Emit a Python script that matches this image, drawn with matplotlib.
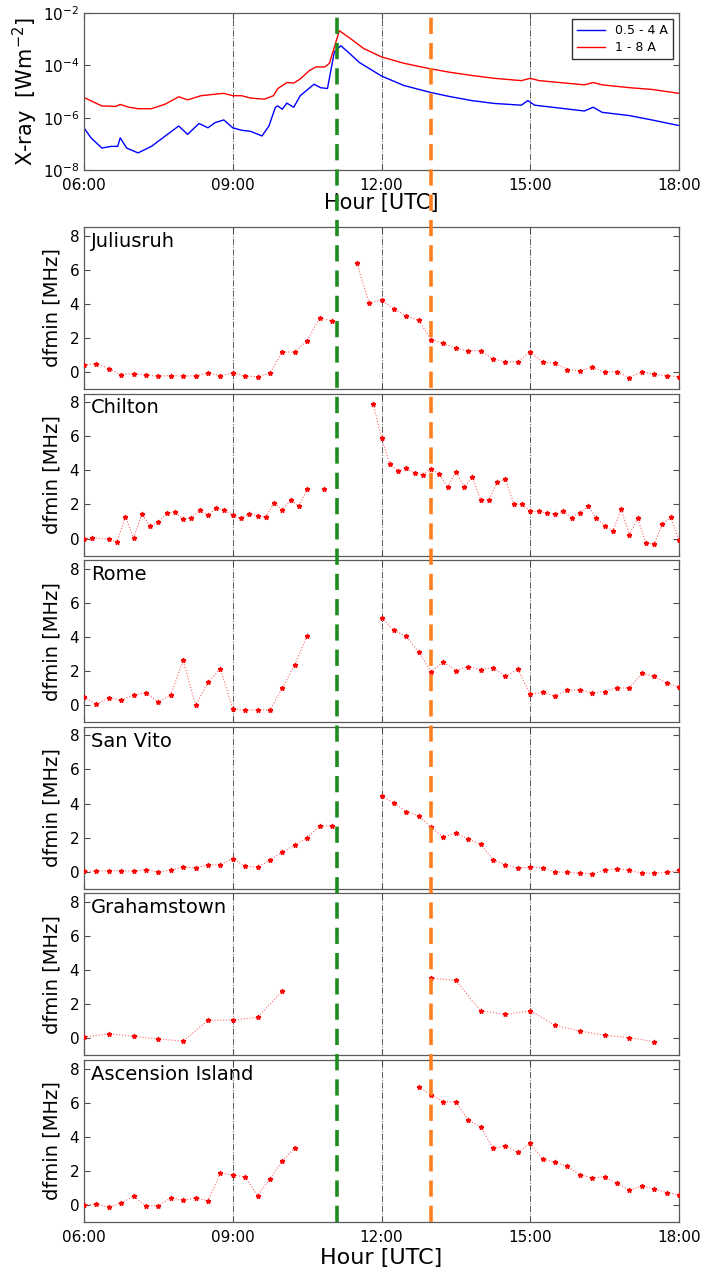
import matplotlib
matplotlib.use("Agg")
import matplotlib.pyplot as plt
import matplotlib.transforms as mtransforms
from matplotlib.lines import Line2D
import numpy as np

nan = np.nan

# ---- GOES X-ray flux (hours UTC, W m^-2)
xr_red_t = [6.0, 6.36, 6.64, 6.73, 6.91, 7.09, 7.36, 7.64, 7.91, 8.09, 8.36, 8.64, 8.82, 9.0,
            9.18, 9.36, 9.64, 9.82, 9.91, 10.09, 10.23, 10.36, 10.55, 10.68, 10.86, 10.95,
            11.15, 11.36, 11.64, 12.0, 12.45, 12.98, 13.36, 13.82, 14.27, 14.82, 15.0, 15.18,
            16.09, 16.27, 16.45, 17.0, 17.45, 18.0]
xr_red = [5.9e-6, 2.8e-6, 2.7e-6, 3.2e-6, 2.5e-6, 2.2e-6, 2.2e-6, 3.3e-6, 6.3e-6, 4.8e-6,
          6.9e-6, 7.9e-6, 8.5e-6, 6.9e-6, 6.9e-6, 5.6e-6, 5.1e-6, 6.9e-6, 1.3e-5, 2.2e-5,
          2.1e-5, 3.0e-5, 6.4e-5, 8.7e-5, 8.7e-5, 1.2e-4, 2.1e-3, 1.1e-3, 4.4e-4, 2.1e-4,
          1.2e-4, 7.4e-5, 5.5e-5, 4.1e-5, 3.2e-5, 2.6e-5, 3.2e-5, 2.6e-5, 1.8e-5, 2.2e-5,
          1.8e-5, 1.4e-5, 1.2e-5, 8.5e-6]
xr_blue_t = [6.0, 6.14, 6.36, 6.55, 6.68, 6.73, 6.86, 7.09, 7.36, 7.64, 7.91, 8.09, 8.32, 8.5,
             8.64, 8.82, 9.0, 9.18, 9.36, 9.59, 9.73, 9.86, 9.91, 10.0, 10.09, 10.23, 10.36,
             10.64, 10.77, 10.91, 11.05, 11.18, 11.36, 11.55, 12.0, 12.45, 12.98, 13.36, 13.82,
             14.27, 14.82, 14.95, 15.09, 16.09, 16.27, 16.45, 17.0, 17.45, 18.0]
xr_blue = [4.1e-7, 1.7e-7, 6.9e-8, 8.0e-8, 8.0e-8, 1.7e-7, 6.9e-8, 4.5e-8, 8.0e-8, 2.0e-7,
           4.8e-7, 2.3e-7, 6.0e-7, 4.1e-7, 6.4e-7, 8.2e-7, 4.1e-7, 3.3e-7, 3.0e-7, 2.0e-7,
           4.8e-7, 2.5e-6, 2.8e-6, 2.1e-6, 3.6e-6, 2.5e-6, 6.9e-6, 1.9e-5, 1.4e-5, 1.3e-5,
           3.3e-4, 5.6e-4, 2.8e-4, 1.3e-4, 3.9e-5, 1.7e-5, 9.3e-6, 6.5e-6, 4.5e-6, 3.5e-6,
           3.0e-6, 4.5e-6, 3.0e-6, 1.8e-6, 2.5e-6, 1.6e-6, 1.2e-6, 8.2e-7, 5.0e-7]

# ---- dfmin per station (hours UTC, MHz); nan = no line across
jul_t = [6.0, 6.25, 6.5, 6.75, 7.0, 7.25, 7.5, 7.75, 8.0, 8.25, 8.5, 8.75, 9.0, 9.25, 9.5, 9.75,
         10.0, 10.25, 10.5, 10.75, 11.0, 11.25, 11.5, 11.75, 12.0, 12.25, 12.5, 12.75, 13.0,
         13.25, 13.5, 13.75, 14.0, 14.25, 14.5, 14.75, 15.0, 15.25, 15.5, 15.75, 16.0, 16.25,
         16.5, 16.75, 17.0, 17.25, 17.5, 17.75, 18.0]
jul_v = [0.4, 0.49, 0.2, -0.16, -0.1, -0.18, -0.25, -0.21, -0.23, -0.23, -0.06, -0.21, -0.06,
         -0.25, -0.27, -0.08, 1.17, 1.17, 1.83, 3.16, 3.0, nan, 6.4, 4.06, 4.2, 3.71, 3.28, 3.03,
         1.89, 1.68, 1.39, 1.25, 1.25, 0.76, 0.6, 0.6, 1.17, 0.57, 0.51, 0.14, 0.08, 0.27, 0.0,
         0.02, -0.35, 0.02, -0.14, -0.21, -0.29]

chi_t = [6.0, 6.167, 6.5, 6.667, 6.833, 7.0, 7.167, 7.333, 7.5, 7.667, 7.833, 8.0, 8.167, 8.333,
         8.5, 8.667, 8.833, 9.0, 9.167, 9.333, 9.5, 9.667, 9.833, 10.0, 10.167, 10.333, 10.5,
         10.667, 10.833, 11.0, 11.833, 12.0, 12.167, 12.333, 12.5, 12.667, 12.833, 13.0, 13.167,
         13.333, 13.5, 13.667, 13.833, 14.0, 14.167, 14.333, 14.5, 14.667, 14.833, 15.0, 15.167,
         15.333, 15.5, 15.667, 15.833, 16.0, 16.167, 16.333, 16.5, 16.667, 16.833, 17.0, 17.167,
         17.333, 17.5, 17.667, 17.833, 18.0]
chi_v = [0.0, 0.05, -0.04, -0.2, 1.27, 0.04, 1.43, 0.73, 0.98, 1.49, 1.57, 1.14, 1.2, 1.65, 1.37,
         1.78, 1.67, 1.39, 1.18, 1.45, 1.35, 1.25, 2.1, 1.69, 2.24, 1.92, 2.88, nan, 2.92, nan,
         7.9, 5.92, 4.37, 3.96, 4.12, 3.84, 3.75, 4.08, 3.78, 3.02, 3.9, 3.02, 3.59, 2.27, 2.27,
         3.3, 3.47, 2.04, 2.0, 1.59, 1.61, 1.49, 1.43, 1.59, 1.22, 1.51, 1.88, 1.22, 0.76, 0.45,
         1.71, 0.22, 1.2, -0.27, -0.31, 0.86, 1.25, -0.08]

rom_t = [6.0, 6.25, 6.5, 6.75, 7.0, 7.25, 7.5, 7.75, 8.0, 8.25, 8.5, 8.75, 9.0, 9.25, 9.5, 9.75,
         10.0, 10.25, 10.5, 11.0, 12.0, 12.25, 12.5, 12.75, 13.0, 13.25, 13.5, 13.75, 14.0, 14.25,
         14.5, 14.75, 15.0, 15.25, 15.5, 15.75, 16.0, 16.25, 16.5, 16.75, 17.0, 17.25, 17.5,
         17.75, 18.0]
rom_v = [0.49, 0.04, 0.43, 0.29, 0.59, 0.74, 0.16, 0.62, 2.63, 0.0, 1.33, 2.13, -0.21, -0.31,
         -0.27, -0.29, 1.0, 2.38, 4.06, nan, 5.13, 4.39, 4.04, 3.1, 1.97, 2.54, 2.03, 2.26, 2.09,
         2.2, 1.68, 2.11, 0.64, 0.76, 0.53, 0.88, 0.9, 0.72, 0.8, 1.01, 1.01, 1.87, 1.68, 1.31,
         1.07]

svi_t = [6.0, 6.25, 6.5, 6.75, 7.0, 7.25, 7.5, 7.75, 8.0, 8.25, 8.5, 8.75, 9.0, 9.25, 9.5, 9.75,
         10.0, 10.25, 10.5, 10.75, 11.0, 11.5, 12.0, 12.25, 12.5, 12.75, 13.0, 13.25, 13.5, 13.75,
         14.0, 14.25, 14.5, 14.75, 15.0, 15.25, 15.5, 15.75, 16.0, 16.25, 16.5, 16.75, 17.0,
         17.25, 17.5, 17.75, 18.0]
svi_v = [0.02, 0.04, 0.06, 0.06, 0.04, 0.12, -0.02, 0.1, 0.27, 0.23, 0.41, 0.41, 0.76, 0.33, 0.27,
         0.68, 1.15, 1.56, 1.99, 2.67, 2.69, nan, 4.45, 4.04, 3.53, 3.27, 2.6, 2.05, 2.28, 1.91,
         1.62, 0.7, 0.41, 0.21, 0.27, 0.23, -0.02, -0.02, -0.1, -0.12, 0.08, 0.18, 0.08, -0.08,
         -0.08, -0.04, 0.08]

gra_t = [6.0, 6.5, 7.0, 7.5, 8.0, 8.5, 9.0, 9.5, 10.0, 11.5, 13.0, 13.5, 14.0, 14.5, 15.0, 15.5,
         16.0, 16.5, 17.0, 17.5]
gra_v = [0.08, 0.27, 0.12, -0.04, -0.16, 1.05, 1.07, 1.23, 2.77, nan, 3.53, 3.4, 1.62, 1.4, 1.62,
         0.76, 0.43, 0.18, 0.04, -0.2]

asc_t = [6.0, 6.25, 6.5, 6.75, 7.0, 7.25, 7.5, 7.75, 8.0, 8.25, 8.5, 8.75, 9.0, 9.25, 9.5, 9.75,
         10.0, 10.25, 11.5, 12.75, 13.0, 13.25, 13.5, 13.75, 14.0, 14.25, 14.5, 14.75, 15.0,
         15.25, 15.5, 15.75, 16.0, 16.25, 16.5, 16.75, 17.0, 17.25, 17.5, 17.75, 18.0]
asc_v = [-0.02, 0.06, -0.14, 0.12, 0.51, -0.06, -0.04, 0.41, 0.27, 0.41, 0.25, 1.87, 1.76, 1.64,
         0.55, 1.54, 2.58, 3.34, nan, 6.91, 6.46, 6.05, 6.05, 4.96, 4.6, 3.32, 3.47, 3.08, 3.61,
         2.69, 2.5, 2.26, 1.76, 1.6, 1.64, 1.27, 0.86, 1.13, 0.94, 0.72, 0.6]

stations = ["Juliusruh", "Chilton", "Rome", "San Vito", "Grahamstown", "Ascension Island"]
series = [(jul_t, jul_v), (chi_t, chi_v), (rom_t, rom_v), (svi_t, svi_v), (gra_t, gra_v),
          (asc_t, asc_v)]

hour_ticks = [6, 9, 12, 15, 18]
hour_labels = ["06:00", "09:00", "12:00", "15:00", "18:00"]
t_flare = 11.1   # green
t_event = 13.0   # orange

W, H = 704, 1276
fig = plt.figure(figsize=(W / 100, H / 100), dpi=100)
plt.rcParams['font.family'] = 'DejaVu Sans'

left = 84 / W
width = (679 - 84) / W

def grid_lines(ax):
    for h in [9, 12, 15]:
        ax.axvline(h, color='0.35', lw=0.7, ls='-.', zorder=1)

def style(ax):
    ax.tick_params(direction='in', right=True, top=True, labelsize=11, length=4,
                   color='0.3')
    ax.tick_params(axis='x', pad=6)
    for s in ax.spines.values():
        s.set_color('0.35')
        s.set_linewidth(0.9)
    ax.set_xlim(6, 18)
    ax.set_xticks(hour_ticks)

# top panel
ax0 = fig.add_axes([left, 1 - 170 / H, width, 157 / H])
ax0.semilogy(xr_blue_t, xr_blue, color='blue', lw=1.0, label='0.5 - 4 A')
ax0.semilogy(xr_red_t, xr_red, color='red', lw=1.0, label='1 - 8 A')
grid_lines(ax0)
style(ax0)
ax0.set_ylim(1e-8, 1e-2)
ax0.set_yticks([1e-8, 1e-6, 1e-4, 1e-2])
ax0.minorticks_off()
ax0.set_xticklabels(hour_labels)
ax0.set_xlabel('Hour [UTC]', fontsize=15, labelpad=0)
ax0.set_ylabel('X-ray  [Wm$^{-2}$]', fontsize=15, labelpad=2)
leg = ax0.legend(loc='upper right', fontsize=9, frameon=True, fancybox=False,
                 edgecolor='black', handlelength=2.2, borderpad=0.4, labelspacing=0.3)
leg.get_frame().set_linewidth(1.0)

# station panels
for i, (name, (t, v)) in enumerate(zip(stations, series)):
    bottom_px = 389 + 166.6 * i
    ax = fig.add_axes([left, 1 - bottom_px / H, width, 162 / H])
    ax.plot(t, v, color='red', lw=0.8, ls=':', alpha=0.6, zorder=3)
    ax.plot(t, v, ls='none', marker='*', ms=3.5, color='red', zorder=4)
    grid_lines(ax)
    style(ax)
    ax.set_ylim(-1, 8.5)
    ax.set_yticks([0, 2, 4, 6, 8])
    ax.set_ylabel('dfmin [MHz]', fontsize=14, labelpad=6)
    ax.text(0.012, 0.97, name, transform=ax.transAxes, fontsize=14, va='top', ha='left')
    if i < len(stations) - 1:
        ax.set_xticklabels([])
    else:
        ax.set_xticklabels(hour_labels)
        ax.set_xlabel('Hour [UTC]', fontsize=16, labelpad=2)

# event markers spanning all panels
trans = mtransforms.blended_transform_factory(ax0.transData, fig.transFigure)
y_top = 1 - 13 / H
y_bot = 1 - 1222 / H
for tm, col in [(t_flare, '#1e8c1e'), (t_event, '#ff7f1e')]:
    fig.add_artist(Line2D([tm, tm], [y_bot, y_top], transform=trans, color=col, lw=2.6,
                          ls=(0, (4.5, 2.5)), zorder=10))

fig.savefig('out.png', dpi=100)
